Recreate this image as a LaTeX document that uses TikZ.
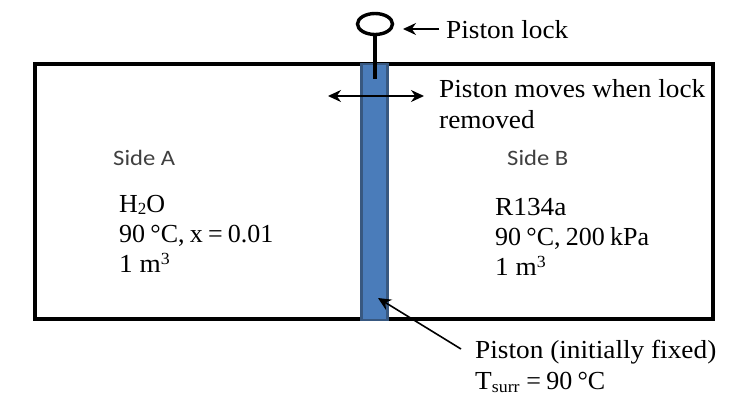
\documentclass[tikz,border=0pt]{standalone}
\usepackage{fontspec}
\setmainfont[FakeStretch=1.05]{Liberation Serif}
\newfontfamily\sidefont[FakeStretch=1.12]{Carlito}
\newfontfamily\tightfont[WordSpace=0.8]{Liberation Serif}
\usetikzlibrary{arrows.meta,shapes.geometric}
\definecolor{pistonfill}{RGB}{74,124,186}
\definecolor{pistonedge}{RGB}{56,88,128}
\newcommand{\lowtext}[1]{\raisebox{-2.5pt}{\fontsize{17}{17}\selectfont #1}}
\newcommand{\hightext}[1]{\raisebox{8pt}{\fontsize{17}{17}\selectfont #1}}
\tikzset{
  x=1pt,y=-1pt,
  lbl/.style={inner sep=0pt,anchor=west,align=left,font=\fontsize{26}{31.5}\selectfont,text=black},
  block/.style={lbl,font=\fontsize{26}{30.3}\selectfont},
  sidelbl/.style={inner sep=0pt,anchor=west,font=\sidefont\fontsize{22}{24}\selectfont,text=black!75},
  heavy/.style={draw=black,line width=3.4pt,outer sep=0pt},
  pointer/.style={draw=black,line width=1.6pt,-{Stealth[length=13pt,width=12pt]}},
}
\begin{document}
\begin{tikzpicture}
\useasboundingbox (0,0) rectangle (752,410);
\node[heavy,minimum width=678pt,minimum height=255pt,inner sep=0pt,anchor=north west] (box) at (35,64) {};
\node[draw=pistonedge,fill=pistonfill,line width=2.2pt,outer sep=0pt,minimum width=26pt,minimum height=256pt,inner sep=0pt,anchor=north west] (piston) at (361.5,64) {};
\node[heavy,ellipse,minimum width=35pt,minimum height=21pt,inner sep=0pt] (ring) at (375,24) {};
\coordinate (stemend) at (375,79);
\draw[heavy] (ring) -- (stemend);
\node[lbl] (lock) at (446,30) {Piston lock};
\coordinate (lockstart) at (439,29);
\coordinate (locktip) at (403,29);
\draw[pointer] (lockstart) -- (locktip);
\coordinate (moveL) at (328,96);
\coordinate (moveR) at (424,96);
\draw[draw=black,line width=1.6pt,{Stealth[length=13pt,width=12pt]}-{Stealth[length=13pt,width=12pt]}] (moveL) -- (moveR);
\node[lbl] (moves) at (439,104) {Piston moves when lock\\removed};
\node[sidelbl] (sideA) at (113,158) {Side A};
\node[sidelbl] (sideB) at (507,158) {Side B};
\node[block] (water) at (119,234) {{\tightfont H\lowtext{2}O}\\{\tightfont 90 °C, x = 0.01}\\1 m\hightext{3}};
\node[block] (ref) at (495,237) {R134a\\{\tightfont 90 °C, 200 kPa}\\1 m\hightext{3}};
\node[lbl] (note) at (475,366) {Piston (initially fixed)\\T\lowtext{surr} {\tightfont = 90 °C}};
\coordinate (pointerstart) at (461,349);
\coordinate (pointertip) at (378,298);
\draw[pointer] (pointerstart) -- (pointertip);
\end{tikzpicture}
\end{document}
